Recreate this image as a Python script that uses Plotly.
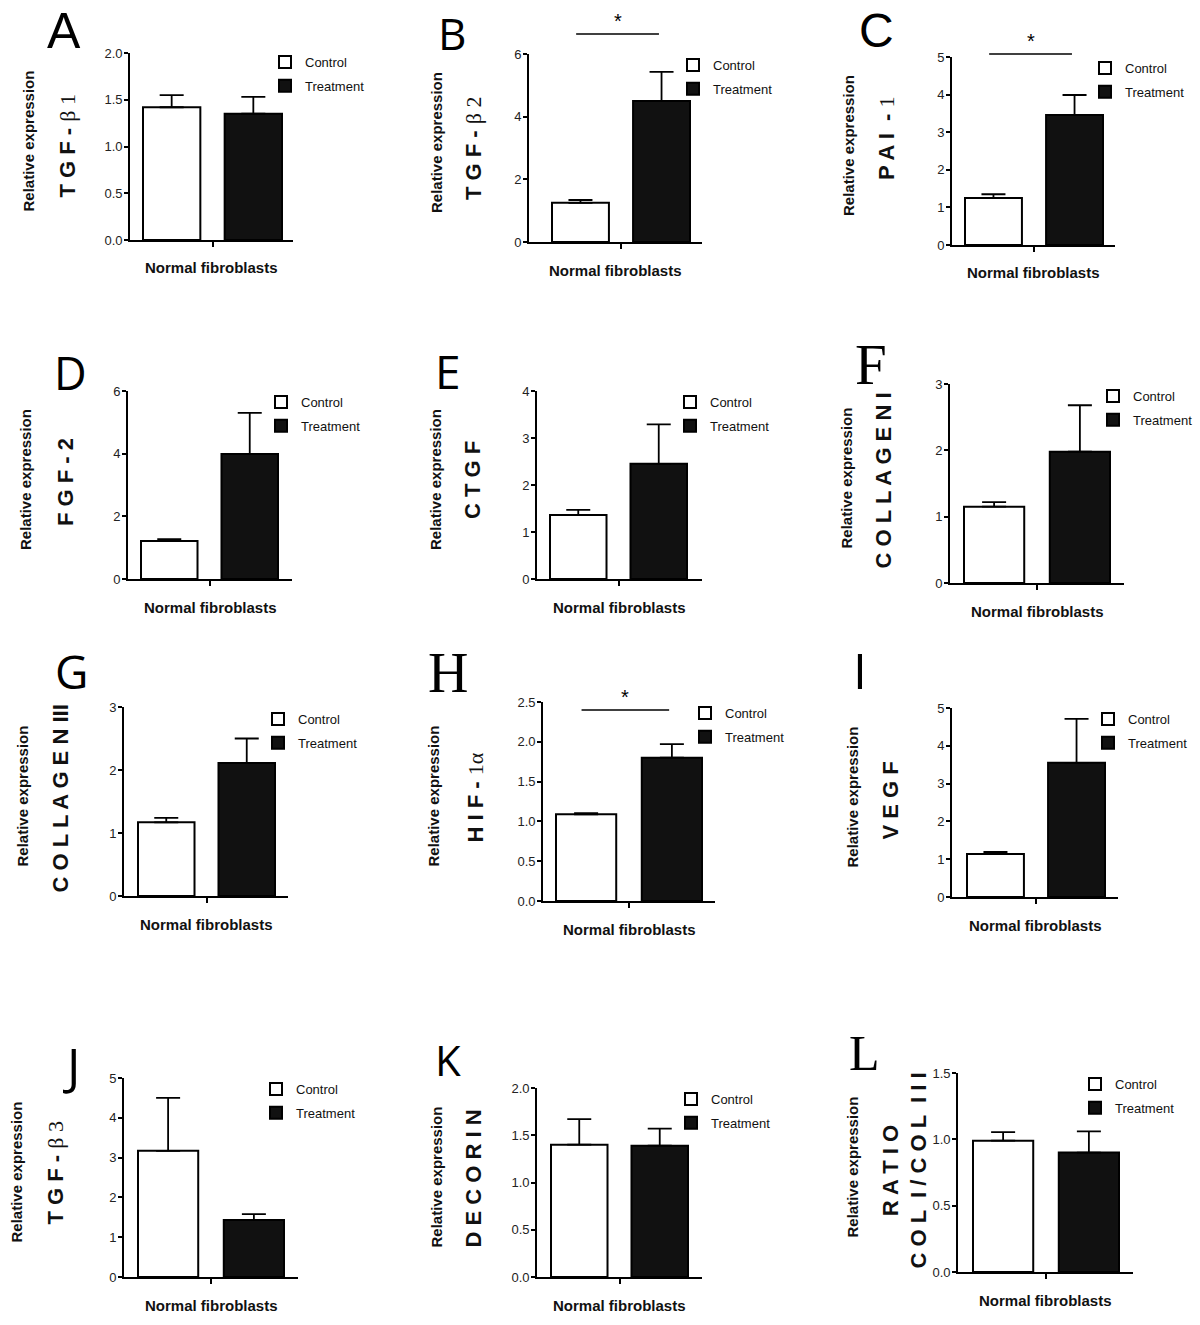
import plotly.graph_objects as go

W, H = 1200, 1325

# ---------------- data ----------------
panel_letters = ["A", "B", "C", "D", "E", "F", "G", "H", "I", "J", "K", "L"]
category = "Normal fibroblasts"
series_names = ["Control", "Treatment"]

gene_labels = [
    "T G F - <span style=\"font-family:Liberation Serif;font-weight:normal\">β 1</span>",
    "T G F - <span style=\"font-family:Liberation Serif;font-weight:normal\">β 2</span>",
    "P A I  - <span style=\"font-family:Liberation Serif;font-weight:normal\">1</span>",
    "F G F - 2",
    "C T G F",
    "C O L L A G E N I",
    "C O L L A G E N III",
    "H I F - <span style=\"font-family:Liberation Serif;font-weight:normal\">1α</span>",
    "V E G F",
    "T G F - <span style=\"font-family:Liberation Serif;font-weight:normal\">β 3</span>",
    "D E C O R I N",
    "R A T I O<br>C O L  I / C O L  I I I",
]

control_mean = [1.42, 1.25, 1.25, 1.21, 1.36, 1.15, 1.17, 1.09, 1.14, 3.17, 1.40, 0.99]
control_err = [0.13, 0.09, 0.10, 0.06, 0.11, 0.07, 0.07, 0.015, 0.05, 1.33, 0.27, 0.065]
treat_mean = [1.35, 4.50, 3.46, 3.99, 2.45, 1.98, 2.11, 1.80, 3.55, 1.43, 1.39, 0.90]
treat_err = [0.18, 0.93, 0.53, 1.31, 0.84, 0.70, 0.39, 0.17, 1.16, 0.15, 0.18, 0.16]

y_max = [2.0, 6, 5, 6, 4, 3, 3, 2.5, 5, 5, 2.0, 1.5]
y_dtick = [0.5, 2, 1, 2, 1, 1, 1, 0.5, 1, 1, 0.5, 0.5]
y_format = [".1f", "d", "d", "d", "d", "d", "d", ".1f", "d", "d", ".1f", ".1f"]

# significance bar level (None = no marker)
sig_level = [None, 6.64, 5.08, None, None, None, None, 2.40, None, None, None, None]
sig_text = "*"

# ---------------- layout geometry (pixels) ----------------
# axis left, axis right, axis top, axis bottom, first bar left, last bar right
geom = [
    (130, 293, 53, 240, 143, 282),
    (529, 702, 54, 242, 552, 690),
    (952, 1115, 57, 245, 965, 1103),
    (128, 292, 391, 579, 141, 278),
    (537, 702, 391, 579, 550, 687),
    (950, 1124, 384, 583, 964, 1110),
    (124, 288, 707, 896, 138, 275),
    (543, 715, 702, 901, 556, 702),
    (952, 1118, 708, 897, 967, 1105),
    (124, 298, 1078, 1277, 138, 284),
    (537, 702, 1088, 1277, 551, 688),
    (958, 1133, 1073, 1272, 973, 1119),
]
legend_pos = [(278, 62), (686, 65), (1098, 68), (274, 402), (683, 402), (1106, 396),
              (271, 719), (698, 713), (1101, 719), (269, 1089), (684, 1099), (1088, 1084)]
# x, y, size, family key
letter_pos = [(64, 31, 50, "a"), (452, 33, 44, "s"), (876, 31, 48, "a"), (70, 372, 45, "s"),
              (448, 371, 46, "s"), (871, 364, 57, "r"), (71, 671, 46, "s"), (448, 673, 56, "r"),
              (860, 670, 50, "s"), (71, 1065, 50, "s"), (448, 1059, 42, "s"), (864, 1053, 50, "r")]
letter_fonts = {"s": "Open Sans, sans-serif", "a": "Liberation Sans, Arial, sans-serif",
                "r": "Liberation Serif, serif"}
rel_dx = [-102, -93, -103, -103, -102, -104, -102, -110, -100, -108, -101, -106]
gene_dx = [-63, -56, -65, -63, -65, -67, -64, -68, -62, -69, -64, -54]
gene_dy = [0, -1, 13, 3, 5, 3, 3, 4, 2, 4, 4, 2]

BAR_LO, BAR_W, BAR_GAP = -0.40, 0.33, 0.14

SANS = "Liberation Sans, Arial, sans-serif"
fig = go.Figure()

for i in range(12):
    n = i + 1
    sfx = "" if n == 1 else str(n)
    xa, ya = "x" + sfx, "y" + sfx
    lg = "legend" + sfx
    L, R, T, B, b1l, b2r = geom[i]
    ppu = (b2r - b1l) / (2 * BAR_W + BAR_GAP)
    lo = BAR_LO - (b1l - L) / ppu
    hi = -BAR_LO + (R - b2r) / ppu

    fig.add_trace(go.Bar(
        x=[0], y=[control_mean[i]], width=[BAR_W], offset=[BAR_LO],
        name=series_names[0], legend=lg, legendgroup=f"c{n}",
        marker=dict(color="white", line=dict(color="black", width=2)),
        error_y=dict(type="data", symmetric=False, array=[control_err[i]], arrayminus=[0],
                     color="black", thickness=1.8, width=12),
        xaxis=xa, yaxis=ya, hoverinfo="skip"))
    fig.add_trace(go.Bar(
        x=[0], y=[treat_mean[i]], width=[BAR_W], offset=[BAR_LO + BAR_W + BAR_GAP],
        name=series_names[1], legend=lg, legendgroup=f"t{n}",
        marker=dict(color="#111111", line=dict(color="black", width=2)),
        error_y=dict(type="data", symmetric=False, array=[treat_err[i]], arrayminus=[0],
                     color="black", thickness=1.8, width=12),
        xaxis=xa, yaxis=ya, hoverinfo="skip"))

    fig.update_layout(**{
        ("xaxis" + sfx): dict(
            domain=[L / W, R / W], range=[lo, hi], anchor=ya,
            showline=True, linecolor="black", linewidth=1.8,
            tickvals=[0], ticktext=[""], ticks="outside", ticklen=5, tickwidth=1.5,
            tickcolor="black", showgrid=False, zeroline=False, fixedrange=True),
        ("yaxis" + sfx): dict(
            domain=[1 - B / H, 1 - T / H], range=[0, y_max[i]], anchor=xa,
            dtick=y_dtick[i], tick0=0, tickformat=y_format[i],
            showline=True, linecolor="black", linewidth=1.8,
            ticks="outside", ticklen=4, tickwidth=1.5, tickcolor="black",
            ticklabelstandoff=-1,
            tickfont=dict(family=SANS, size=13, color="#222"),
            showgrid=False, zeroline=False, fixedrange=True),
        lg: dict(
            x=(legend_pos[i][0] - 13) / W, y=1 - (legend_pos[i][1] - 15) / H,
            xanchor="left", yanchor="top", bgcolor="rgba(0,0,0,0)",
            font=dict(family=SANS, size=13, color="#111"), tracegroupgap=4,
            traceorder="grouped"),
    })

    # x label
    fig.add_annotation(text=f"<b>{category}</b>", xref=xa + " domain", yref=ya + " domain",
                       x=0.5, y=0, yshift=-28, xanchor="center", yanchor="middle",
                       showarrow=False, font=dict(family=SANS, size=15, color="#111"))
    # y titles
    fig.add_annotation(text="<b>Relative expression</b>", xref=xa + " domain", yref=ya + " domain",
                       x=0, y=0.5, xshift=rel_dx[i], yshift=5, textangle=-90,
                       xanchor="center", yanchor="middle", showarrow=False,
                       font=dict(family=SANS, size=15, color="#111"))
    fig.add_annotation(text=gene_labels[i], xref=xa + " domain", yref=ya + " domain",
                       x=0, y=0.5, xshift=gene_dx[i], yshift=gene_dy[i], textangle=-90,
                       xanchor="center", yanchor="middle", showarrow=False,
                       font=dict(family=SANS, size=22, color="#111", weight="bold"))
    # panel letter
    lx, ly, ls, lf = letter_pos[i]
    fig.add_annotation(text=panel_letters[i], xref="paper", yref="paper",
                       x=lx / W, y=1 - ly / H, xanchor="center", yanchor="middle",
                       showarrow=False,
                       font=dict(family=letter_fonts[lf], size=ls, color="black"))
    # significance
    if sig_level[i] is not None:
        x0, x1 = -0.26, 0.22
        fx0, fx1 = (x0 - lo) / (hi - lo), (x1 - lo) / (hi - lo)
        fy = sig_level[i] / y_max[i]
        fig.add_shape(type="line", xref=xa + " domain", yref=ya + " domain",
                      x0=fx0, x1=fx1, y0=fy, y1=fy,
                      line=dict(color="black", width=1.5))
        fig.add_annotation(text=sig_text, xref=xa + " domain", yref=ya + " domain",
                           x=(fx0 + fx1) / 2, y=fy,
                           xanchor="center", yanchor="bottom", showarrow=False,
                           font=dict(family=SANS, size=20, color="black"))

fig.update_layout(width=W, height=H,
                  margin=dict(l=0, r=0, t=0, b=0, autoexpand=False),
                  paper_bgcolor="white", plot_bgcolor="white", barmode="overlay",
                  showlegend=True)

fig.write_html("out.html", config={"displayModeBar": False},
               post_script="document.body.style.margin='0';document.body.style.overflow='hidden';")
